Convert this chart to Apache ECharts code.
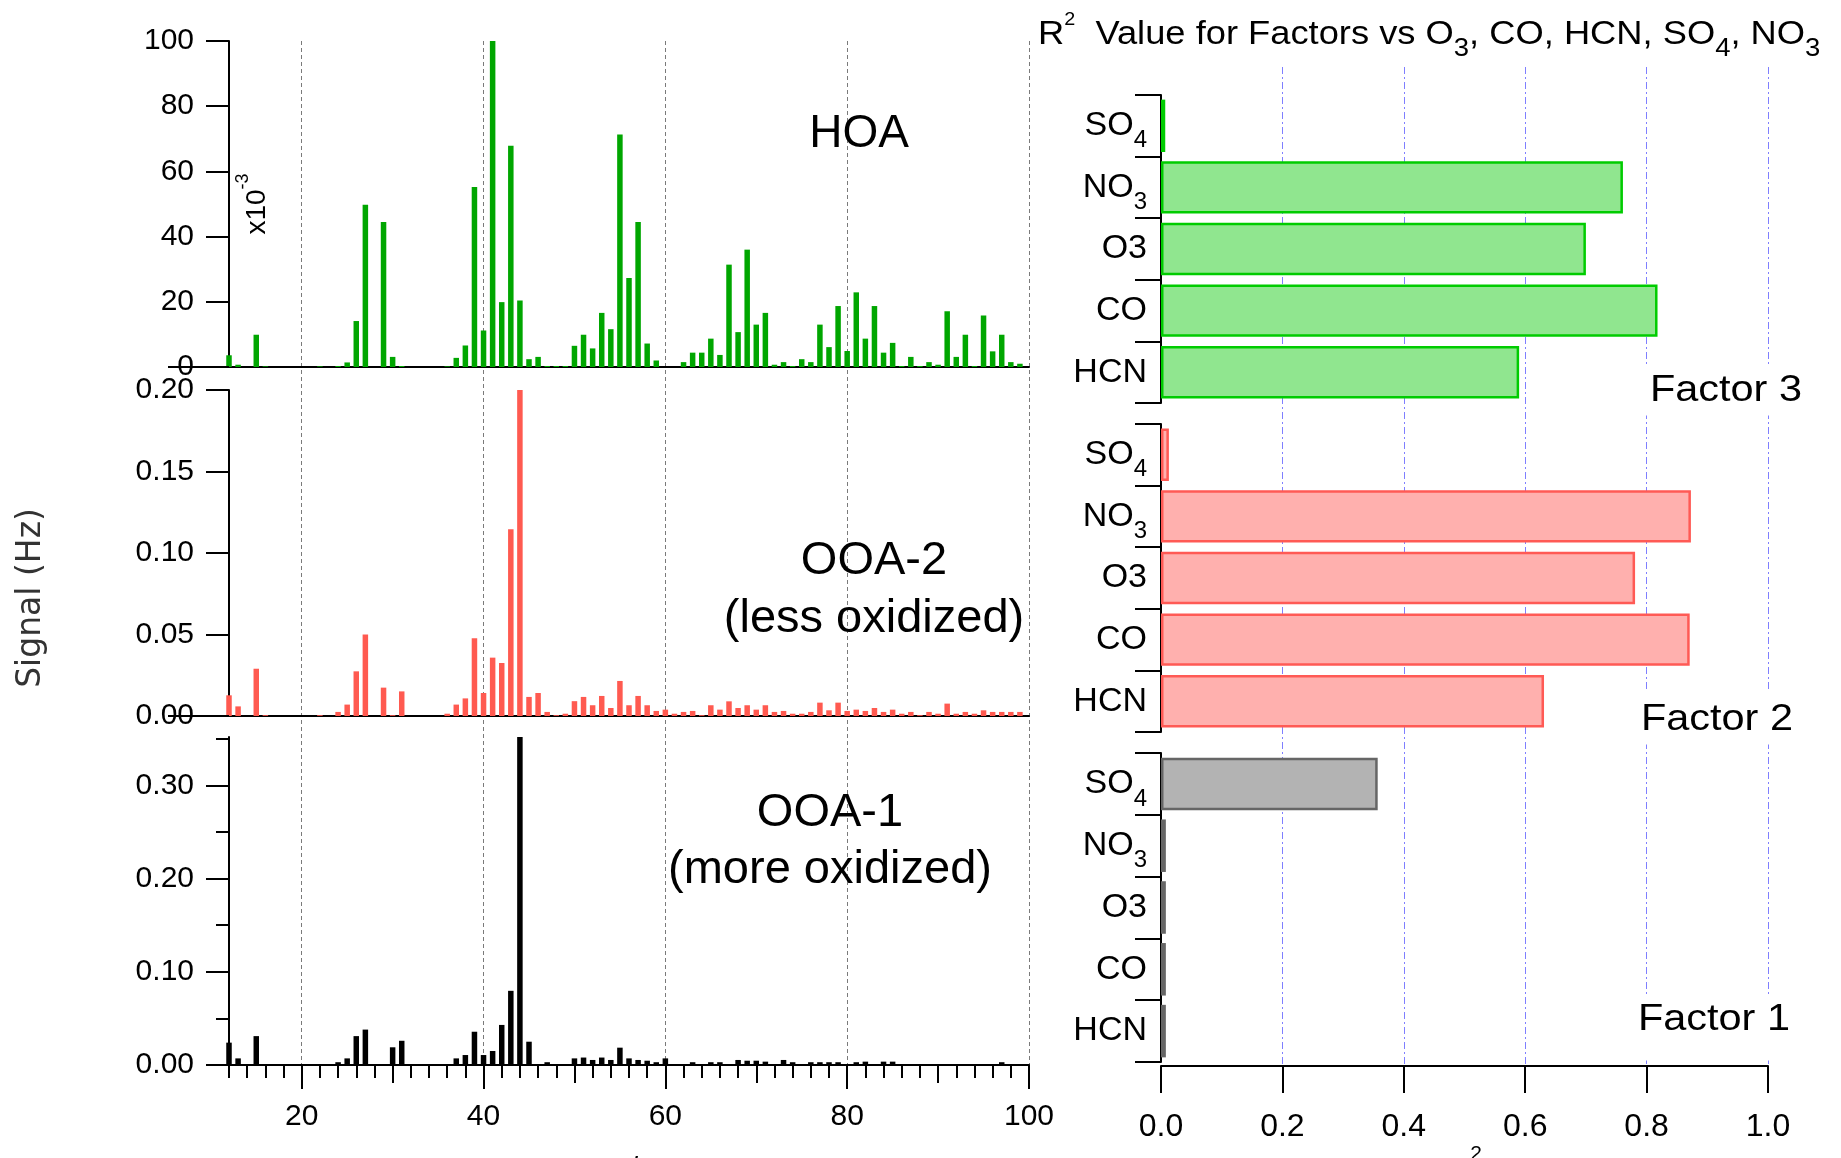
<!DOCTYPE html>
<html>
<head>
<meta charset="utf-8">
<title>Factor mass spectra and R² correlations</title>
<script src="https://cdn.jsdelivr.net/npm/echarts@6/dist/echarts.min.js"></script>
<style>
  html, body { margin: 0; padding: 0; background: #fff; }
  #chart { width: 1841px; height: 1158px; }
</style>
</head>
<body>
<div id="chart"></div>
<script>
// ---- Factor mass spectra (m/z vs signal) ----
// HOA signal is in units of 10^-3 Hz
const hoaMz = [12,13,15,16,22,24,25,26,27,29,30,31,36,37,38,39,40,41,42,43,44,45,46,47,48,49,
  50,51,52,53,54,55,56,57,58,59,62,63,64,65,66,67,68,69,70,71,72,73,74,75,76,77,78,79,80,
  81,82,83,84,85,86,87,88,89,90,91,92,93,94,95,96,97,98,99];
const hoaSignal = [3.6,0.7,9.9,0.2,0.2,0.3,1.4,14.1,49.8,44.5,3.1,0.3,0.2,2.8,6.6,55.2,11.2,100,19.9,67.9,20.4,2.4,3.1,0.3,0.3,0.3,
  6.5,9.9,5.7,16.6,11.6,71.3,27.3,44.5,7.2,2.0,1.5,4.4,4.4,8.7,3.7,31.4,10.7,36.0,13.0,16.6,0.7,1.5,0.3,2.4,1.5,13.0,6.1,18.7,4.9,
  22.9,8.7,18.7,4.4,7.4,0.3,3.1,0.3,1.5,0.7,17.1,3.1,9.9,0.3,15.8,4.8,9.9,1.5,1.0];

// OOA-2 (less oxidized), Hz
const ooa2Mz = [12,13,15,16,22,24,25,26,27,29,30,31,36,37,38,39,40,41,42,43,44,45,46,47,48,49,
  50,51,52,53,54,55,56,57,58,59,60,61,62,63,64,65,66,67,68,69,70,71,72,73,74,75,76,77,78,79,80,
  81,82,83,84,85,86,87,88,89,90,91,92,93,94,95,96,97,98,99];
const ooa2Signal = [0.0127,0.0059,0.029,0.0005,0.0005,0.0025,0.007,0.0274,0.050,0.0174,0.0005,0.0151,0.0014,0.007,0.0108,0.0477,0.0141,0.0358,0.0325,0.1146,0.2,0.0117,0.0141,0.0025,0.0005,0.0014,
  0.0091,0.0117,0.0066,0.0123,0.0049,0.0215,0.0066,0.0123,0.0066,0.0031,0.0039,0.0014,0.0025,0.0031,0.0005,0.0066,0.0039,0.009,0.0049,0.0066,0.0039,0.0066,0.0025,0.0031,0.0014,0.0014,0.0025,0.0082,0.0035,0.0082,0.0031,
  0.0039,0.0031,0.0049,0.0025,0.0039,0.0014,0.0025,0.0005,0.0025,0.0014,0.0076,0.0014,0.0025,0.0014,0.0035,0.0025,0.0025,0.0025,0.0025];

// OOA-1 (more oxidized), Hz
const ooa1Mz = [12,13,15,24,25,26,27,30,31,37,38,39,40,41,42,43,44,45,47,50,51,52,53,54,55,56,57,58,59,60,
  63,65,66,68,69,70,71,73,74,76,77,78,79,81,82,84,85,97];
const ooa1Signal = [0.024,0.0071,0.031,0.003,0.0071,0.031,0.038,0.019,0.026,0.0071,0.0107,0.0357,0.0107,0.015,0.043,0.0796,0.352,0.025,0.003,
  0.0071,0.008,0.0054,0.008,0.0054,0.0186,0.0071,0.0054,0.0046,0.003,0.0071,
  0.003,0.003,0.003,0.0054,0.0046,0.0046,0.0036,0.0054,0.003,0.003,0.003,0.003,0.003,0.003,0.0036,0.0036,0.0036,0.003];

// m/z axis ticks
const mzMajorTicks = [20, 40, 60, 80, 100];
const mzMidTicks = [30, 50, 70, 90];
const mzMinorTicks = [12,14,16,18,22,24,26,28,32,34,36,38,42,44,46,48,52,54,56,58,62,64,66,68,72,74,76,78,82,84,86,88,92,94,96,98];
const ooa1MajorTicks = [0, 0.1, 0.2, 0.3];
const ooa1MinorTicks = [0.05, 0.15, 0.25, 0.35];

// ---- R² of each factor against tracers ----
const r2Categories = ['SO4', 'NO3', 'O3', 'CO', 'HCN'];
const factor3R2 = [0.007, 0.761, 0.700, 0.818, 0.590];
const factor2R2 = [0.013, 0.873, 0.781, 0.871, 0.631];
const factor1R2 = [0.357, 0.008, 0.008, 0.008, 0.008];
const r2Ticks = [0.2, 0.4, 0.6, 0.8, 1.0];

const FONT = '"Liberation Sans", Arial, Helvetica, sans-serif';
const pairs = (xs, ys) => xs.map((x, i) => [x, ys[i]]);

const blackLine = { lineStyle: { color: '#000', width: 2 } };
const hiddenAxis = { show: false };

// left-hand spectra grids
const specLeft = 229, specWidth = 800;
// right-hand R² grids
const r2Left = 1161, r2Width = 607;

function spectrumX(gridIndex) {
  return {
    type: 'value', gridIndex, min: 12, max: 100,
    axisLine: { show: true, onZero: false, ...blackLine },
    axisTick: { show: false }, axisLabel: { show: false }, splitLine: { show: false }
  };
}

const catSubscript = { SO4: '{m|SO}{s|4}', NO3: '{m|NO}{s|3}' };
const catRich = {
  m: { fontFamily: FONT, fontSize: 34, lineHeight: 60, color: '#000' },
  s: { fontFamily: FONT, fontSize: 24, height: 30, verticalAlign: 'bottom', color: '#000' }
};
function r2CategoryAxis(gridIndex) {
  return {
    type: 'category', gridIndex, data: r2Categories, inverse: true,
    axisLine: { show: true, ...blackLine },
    axisTick: { show: true, length: 26, ...blackLine },
    axisLabel: {
      interval: 0, margin: 14,
      formatter: v => catSubscript[v] || ('{m|' + v + '}'),
      rich: catRich
    },
    splitLine: { show: false }
  };
}
function r2Series(xi, yi, data, fill, border) {
  return {
    type: 'bar', xAxisIndex: xi, yAxisIndex: yi, data, barWidth: '85%', silent: true,
    itemStyle: { color: fill, borderColor: border, borderWidth: 2.5 }
  };
}

const graphics = [
  { // R² title
    type: 'text', x: 1038, y: 0, scaleX: 1.1, z: 100,
    style: {
      text: '{m|R}{sup|2}{m|  Value for Factors vs O}{sub|3}{m|, CO, HCN, SO}{sub|4}{m|, NO}{sub|3}',
      align: 'left', verticalAlign: 'top',
      rich: {
        m: { fontFamily: FONT, fontSize: 33, lineHeight: 70, fill: '#000' },
        sup: { fontFamily: FONT, fontSize: 18, height: 40.5, verticalAlign: 'top', fill: '#000' },
        sub: { fontFamily: FONT, fontSize: 25, height: 42.4, verticalAlign: 'bottom', fill: '#000' }
      }
    }
  },
  { // y-axis title
    type: 'text', x: 31, y: 598, rotation: Math.PI / 2, z: 100,
    style: { text: 'Signal (Hz)', fontFamily: '"DejaVu Sans", Verdana, sans-serif', fontSize: 33, fill: '#333', align: 'center', verticalAlign: 'middle' }
  },
  { // HOA scale multiplier
    type: 'text', x: 257, y: 204, rotation: Math.PI / 2, z: 100,
    style: {
      text: '{m|x10}{s|-3}', align: 'center', verticalAlign: 'middle',
      rich: {
        m: { fontFamily: FONT, fontSize: 28, lineHeight: 44, fill: '#000' },
        s: { fontFamily: FONT, fontSize: 18, height: 16, verticalAlign: 'top', fill: '#000' }
      }
    }
  },
  {
    type: 'text', x: 859, y: 134, z: 100,
    style: { text: 'HOA', fontFamily: FONT, fontSize: 46, fill: '#000', align: 'center', verticalAlign: 'middle' }
  },
  {
    type: 'text', x: 874, y: 532, z: 100,
    style: { text: 'OOA-2\n(less oxidized)', fontFamily: FONT, fontSize: 47, lineHeight: 58, fill: '#000', align: 'center', verticalAlign: 'top' }
  },
  {
    type: 'text', x: 830, y: 785, z: 100,
    style: { text: 'OOA-1\n(more oxidized)', fontFamily: FONT, fontSize: 47, lineHeight: 57, fill: '#000', align: 'center', verticalAlign: 'top' }
  },
  {
    type: 'text', x: 1641, y: 366.5, scaleX: 1.12, z: 100,
    style: { text: 'Factor 3', fontFamily: FONT, fontSize: 37, fill: '#000', align: 'left', verticalAlign: 'top', backgroundColor: '#fff', padding: [6, 8, 6, 8] }
  },
  {
    type: 'text', x: 1632, y: 691.5, scaleX: 1.12, z: 100,
    style: { text: 'Factor 2', fontFamily: FONT, fontSize: 37, fill: '#000', align: 'left', verticalAlign: 'top', backgroundColor: '#fff', padding: [10, 8, 6, 8] }
  },
  {
    type: 'text', x: 1629, y: 995.5, scaleX: 1.12, z: 100,
    style: { text: 'Factor 1', fontFamily: FONT, fontSize: 37, fill: '#000', align: 'left', verticalAlign: 'top', backgroundColor: '#fff', padding: [6, 8, 22, 8] }
  }
];

const option = {
  backgroundColor: '#fff',
  animation: false,
  textStyle: { fontFamily: FONT },
  grid: [
    { left: specLeft, top: 41, width: specWidth, height: 1024, outerBoundsMode: 'none' },   // 0 spectra gridlines
    { left: specLeft, top: 41, width: specWidth, height: 326, outerBoundsMode: 'none' },    // 1 HOA
    { left: specLeft, top: 390, width: specWidth, height: 326, outerBoundsMode: 'none' },   // 2 OOA-2
    { left: specLeft, top: 737, width: specWidth, height: 328, outerBoundsMode: 'none' },   // 3 OOA-1
    { left: r2Left, top: 67, width: r2Width, height: 999, outerBoundsMode: 'none' },        // 4 R² gridlines
    { left: r2Left, top: 95, width: r2Width, height: 308, outerBoundsMode: 'none' },        // 5 Factor 3
    { left: r2Left, top: 424, width: r2Width, height: 308, outerBoundsMode: 'none' },       // 6 Factor 2
    { left: r2Left, top: 753, width: r2Width, height: 309, outerBoundsMode: 'none' }        // 7 Factor 1
  ],
  xAxis: [
    { // 0: dashed m/z gridlines through all spectra
      type: 'value', gridIndex: 0, min: 12, max: 100,
      axisLine: hiddenAxis, axisLabel: hiddenAxis,
      axisTick: { show: false, customValues: mzMajorTicks },
      splitLine: { show: true, lineStyle: { color: '#7a7a7a', width: 1, type: [4, 3] } }
    },
    spectrumX(1),
    spectrumX(2),
    { // 3: bottom m/z axis, major ticks and labels
      type: 'value', gridIndex: 3, min: 12, max: 100, position: 'bottom',
      axisLine: { show: true, onZero: false, ...blackLine },
      axisTick: { show: true, length: 24, customValues: mzMajorTicks, ...blackLine },
      axisLabel: { show: true, customValues: mzMajorTicks, margin: 37, fontSize: 30, color: '#000', fontFamily: FONT },
      splitLine: { show: false },
      name: 'm/z', nameLocation: 'middle', nameGap: 90,
      nameTextStyle: { fontSize: 30, color: '#000', fontFamily: FONT }
    },
    { // 4: medium ticks at odd tens
      type: 'value', gridIndex: 3, min: 12, max: 100, position: 'bottom',
      axisLine: { show: false, onZero: false },
      axisTick: { show: true, length: 18, customValues: mzMidTicks, ...blackLine },
      axisLabel: hiddenAxis, splitLine: { show: false }
    },
    { // 5: minor ticks every 2
      type: 'value', gridIndex: 3, min: 12, max: 100, position: 'bottom',
      axisLine: { show: false, onZero: false },
      axisTick: { show: true, length: 13, customValues: mzMinorTicks, ...blackLine },
      axisLabel: hiddenAxis, splitLine: { show: false }
    },
    { // 6: blue R² gridlines
      type: 'value', gridIndex: 4, min: 0, max: 1,
      axisLine: hiddenAxis, axisLabel: hiddenAxis,
      axisTick: { show: false, customValues: r2Ticks },
      splitLine: { show: true, lineStyle: { color: '#7f7fff', width: 1, type: [7, 3, 2, 3] } }
    },
    { type: 'value', gridIndex: 5, min: 0, max: 1, show: false },
    { type: 'value', gridIndex: 6, min: 0, max: 1, show: false },
    { // 9: R² axis
      type: 'value', gridIndex: 7, min: 0, max: 1, interval: 0.2, position: 'bottom', offset: 4,
      axisLine: { show: true, onZero: false, ...blackLine },
      axisTick: { show: true, length: 27, ...blackLine },
      axisLabel: { margin: 45, fontSize: 32, color: '#000', fontFamily: FONT, formatter: v => v.toFixed(1) },
      splitLine: { show: false },
      name: '{m|R}{sup|2}', nameLocation: 'middle', nameGap: 78,
      nameTextStyle: {
        rich: {
          m: { fontFamily: FONT, fontSize: 32, lineHeight: 60, color: '#000' },
          sup: { fontFamily: FONT, fontSize: 21, height: 20, verticalAlign: 'top', color: '#000' }
        }
      }
    }
  ],
  yAxis: [
    { type: 'value', gridIndex: 0, min: 0, max: 1, show: false },
    { // HOA (x10^-3)
      type: 'value', gridIndex: 1, min: 0, max: 100, interval: 20,
      axisLine: { show: true, ...blackLine },
      axisTick: { show: true, length: 23, ...blackLine },
      axisLabel: { margin: 35, fontSize: 30, color: '#000', fontFamily: FONT },
      splitLine: { show: false }
    },
    { // OOA-2
      type: 'value', gridIndex: 2, min: 0, max: 0.2, interval: 0.05,
      axisLine: { show: true, ...blackLine },
      axisTick: { show: true, length: 23, ...blackLine },
      axisLabel: { margin: 35, fontSize: 30, color: '#000', fontFamily: FONT, formatter: v => v.toFixed(2) },
      splitLine: { show: false }
    },
    { // OOA-1 major
      type: 'value', gridIndex: 3, min: 0, max: 0.352,
      axisLine: { show: true, ...blackLine },
      axisTick: { show: true, length: 23, customValues: ooa1MajorTicks, ...blackLine },
      axisLabel: { margin: 35, fontSize: 30, color: '#000', fontFamily: FONT, customValues: ooa1MajorTicks, formatter: v => v.toFixed(2) },
      splitLine: { show: false }
    },
    { // OOA-1 minor
      type: 'value', gridIndex: 3, min: 0, max: 0.352, position: 'left',
      axisLine: { show: false },
      axisTick: { show: true, length: 13, customValues: ooa1MinorTicks, ...blackLine },
      axisLabel: hiddenAxis, splitLine: { show: false }
    },
    { type: 'value', gridIndex: 4, min: 0, max: 1, show: false },
    r2CategoryAxis(5),
    r2CategoryAxis(6),
    r2CategoryAxis(7)
  ],
  series: [
    { type: 'bar', xAxisIndex: 1, yAxisIndex: 1, data: pairs(hoaMz, hoaSignal), barWidth: 5.5, silent: true, itemStyle: { color: '#00a600' } },
    { type: 'bar', xAxisIndex: 2, yAxisIndex: 2, data: pairs(ooa2Mz, ooa2Signal), barWidth: 5.5, silent: true, itemStyle: { color: '#ff5a50' } },
    { type: 'bar', xAxisIndex: 3, yAxisIndex: 3, data: pairs(ooa1Mz, ooa1Signal), barWidth: 5.5, silent: true, itemStyle: { color: '#000' } },
    r2Series(7, 6, factor3R2, '#90e68f', '#00cc00'),
    r2Series(8, 7, factor2R2, '#ffb0ae', '#ff5a55'),
    r2Series(9, 8, factor1R2, '#b3b3b3', '#666666')
  ],
  graphic: graphics
};

const chart = echarts.init(document.getElementById('chart'), null, { renderer: 'canvas' });
chart.setOption(option);

// Zero lines of the upper two spectra run left through their "0" labels
const zeroLineStart = 168;
const axisStartX = chart.convertToPixel({ xAxisIndex: 1 }, 12);
const zeroLines = [1, 2].map(idx => {
  const y = chart.convertToPixel({ yAxisIndex: idx }, 0);
  return {
    type: 'line', z: 50, silent: true,
    shape: { x1: zeroLineStart, y1: y, x2: axisStartX, y2: y },
    style: { stroke: '#000', lineWidth: 2 }
  };
});
chart.setOption({ graphic: graphics.concat(zeroLines) });
</script>
</body>
</html>
